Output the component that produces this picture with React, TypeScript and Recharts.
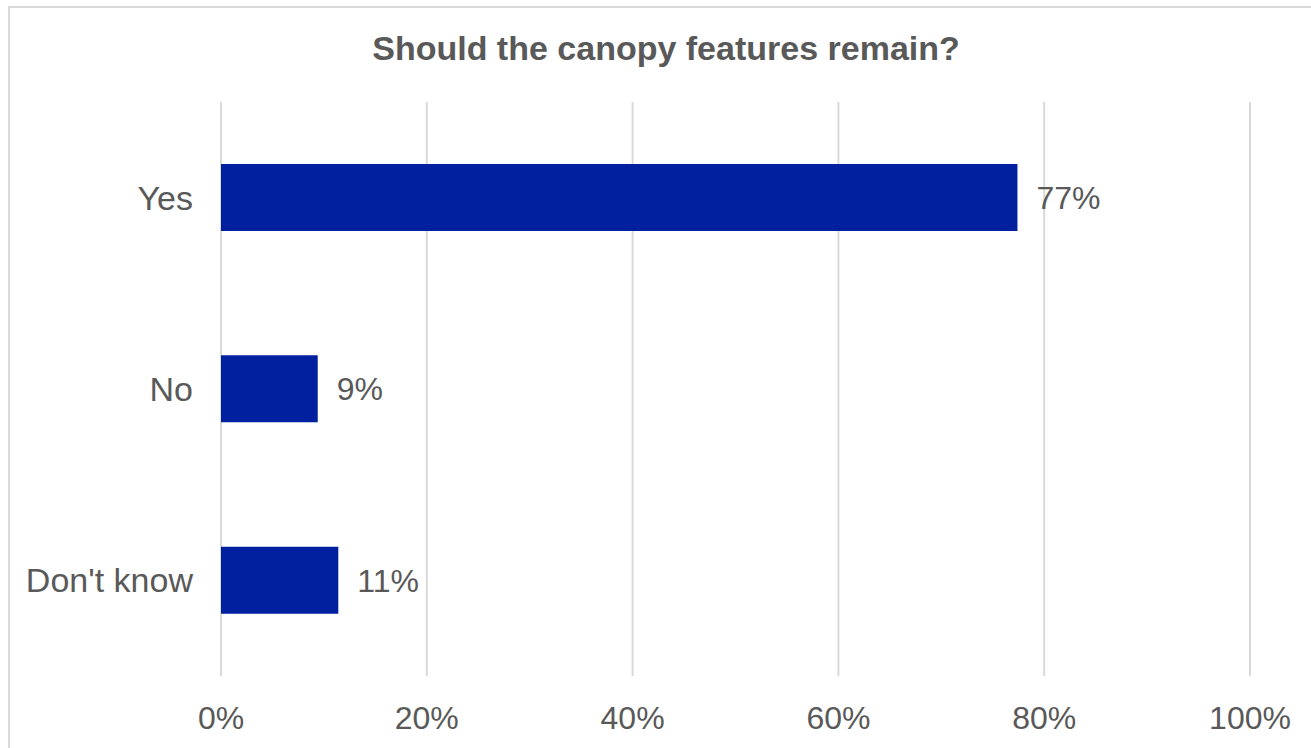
import { BarChart, Bar, XAxis, YAxis, CartesianGrid, LabelList } from 'recharts';

const categories = ['Yes', 'No', "Don't know"];
const shares = [77.4, 9.4, 11.4];
const xTicks = [0, 20, 40, 60, 80, 100];

const data = categories.map((answer, i) => ({ answer, share: shares[i] }));

const textColor = '#595959';
const font = '"Liberation Sans", Arial, sans-serif';

const App = () => {
    return (
        <div style={{ position: 'fixed', top: 0, left: 0, width: 1311, height: 748, background: '#fff', overflow: 'hidden', fontFamily: font }}>
            {/* chart border, cut off on the right and bottom */}
            <div style={{ position: 'absolute', left: 8, top: 6, width: 1400, height: 800, borderTop: '2px solid #d9d9d9', borderLeft: '2px solid #d9d9d9' }} />

            {/* Title */}
            <div style={{ position: 'absolute', top: 29, left: 0, width: 1332, textAlign: 'center', fontSize: 34, fontWeight: 'bold', color: textColor, lineHeight: '38px' }}>
                Should the canopy features remain?
            </div>

            <div style={{ position: 'absolute', top: 0, left: 0 }}>
                <BarChart
                    width={1311}
                    height={748}
                    data={data}
                    layout="vertical"
                    margin={{ top: 102, right: 61, left: 0, bottom: 0 }}
                    barSize={67}
                >
                    <CartesianGrid horizontal={false} stroke="#d9d9d9" strokeWidth={2} />
                    <XAxis
                        type="number"
                        domain={[0, 100]}
                        ticks={xTicks}
                        tickFormatter={(v: number) => `${v}%`}
                        axisLine={false}
                        tickLine={false}
                        tickMargin={24}
                        height={72}
                        tick={{ fill: textColor, fontSize: 32, fontFamily: font }}
                    />
                    <YAxis
                        type="category"
                        dataKey="answer"
                        width={221}
                        axisLine={false}
                        tickLine={false}
                        tickMargin={22}
                        tick={{ fill: textColor, fontSize: 34, fontFamily: font }}
                    />
                    <Bar dataKey="share" fill="#00209F" isAnimationActive={false}>
                        <LabelList
                            dataKey="share"
                            position="right"
                            offset={19}
                            formatter={(v: any) => `${Math.round(Number(v))}%`}
                            style={{ fill: textColor, fontSize: 32, fontFamily: font }}
                        />
                    </Bar>
                </BarChart>
            </div>
        </div>
    );
};

export default App;
